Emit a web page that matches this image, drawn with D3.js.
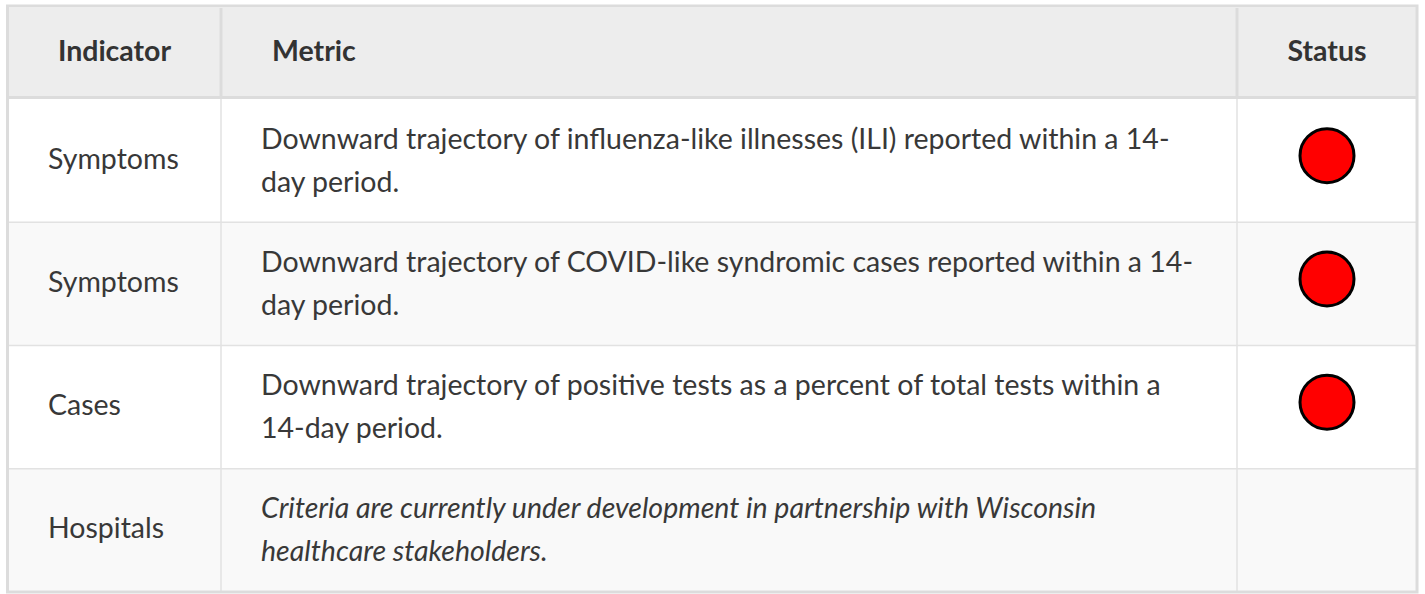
<!DOCTYPE html>
<html>
<head>
<meta charset="utf-8">
<script src="https://cdn.jsdelivr.net/npm/d3@7"></script>
<style>
  body { margin: 0; background: #fff; }
  svg text { font-family: Lato, sans-serif; fill: #383838; }
</style>
</head>
<body>
<div id="tableChart"></div>
<script>
'use strict';

// table content
const columns = ["Indicator", "Metric", "Status"]
const indicators = ["Symptoms", "Symptoms", "Cases", "Hospitals"]
const metrics = [
    ["Downward trajectory of influenza-like illnesses (ILI) reported within a 14-", "day period."],
    ["Downward trajectory of COVID-like syndromic cases reported within a 14-", "day period."],
    ["Downward trajectory of positive tests as a percent of total tests within a", "14-day period."],
    ["Criteria are currently under development in partnership with Wisconsin", "healthcare stakeholders."]
]
const italicRows = [false, false, false, true]
const statuses = ["red", "red", "red", null]

let width = 1425
let height = 594
let fontSize = "28.5px"

let svg = d3.select("#tableChart")
    .append("svg")
    .attr("width", width)
    .attr("height", height)

// column edges
let colEdges = [8, 221, 1237, 1416]
let headTop = 8, headBottom = 97

let y = d3.scaleBand()
    .domain(d3.range(indicators.length))
    .range([99, 592])

// header background
svg.append("rect")
    .attr("x", colEdges[0]).attr("y", headTop)
    .attr("width", colEdges[3] - colEdges[0]).attr("height", headBottom - headTop)
    .attr("fill", "#ededed")

// row backgrounds
svg.selectAll(".rowBg")
    .data(indicators)
    .enter().append("rect")
    .attr("class", "rowBg")
    .attr("x", colEdges[0])
    .attr("y", (d, i) => y(i))
    .attr("width", colEdges[3] - colEdges[0])
    .attr("height", y.bandwidth())
    .attr("fill", (d, i) => i % 2 ? "#f9f9f9" : "#ffffff")

// row separators
svg.selectAll(".rowLine")
    .data(d3.range(1, indicators.length))
    .enter().append("line")
    .attr("x1", colEdges[0]).attr("x2", colEdges[3])
    .attr("y1", d => y(d)).attr("y2", d => y(d))
    .attr("stroke", "#e2e2e2")
    .attr("stroke-width", 1.5)

// body column separators
svg.selectAll(".colLine")
    .data([colEdges[1], colEdges[2]])
    .enter().append("line")
    .attr("x1", d => d).attr("x2", d => d)
    .attr("y1", headBottom).attr("y2", 592)
    .attr("stroke", "#e2e2e2")
    .attr("stroke-width", 1.5)

// header column separators
svg.selectAll(".headColLine")
    .data([colEdges[1], colEdges[2]])
    .enter().append("line")
    .attr("x1", d => d).attr("x2", d => d)
    .attr("y1", headTop).attr("y2", headBottom)
    .attr("stroke", "#dcdcdc")
    .attr("stroke-width", 3)

// header bottom border
svg.append("line")
    .attr("x1", colEdges[0]).attr("x2", colEdges[3])
    .attr("y1", 97.5).attr("y2", 97.5)
    .attr("stroke", "#dcdcdc")
    .attr("stroke-width", 3)

// outer border
svg.append("rect")
    .attr("x", 7.5).attr("y", 6)
    .attr("width", 1409.5).attr("height", 586)
    .attr("fill", "none")
    .attr("stroke", "#dcdcdc")
    .attr("stroke-width", 3)

// header text
let headX = [114.5, 272, 1327]
let headAnchor = ["middle", "start", "middle"]
svg.selectAll(".headText")
    .data(columns)
    .enter().append("text")
    .attr("x", (d, i) => headX[i])
    .attr("y", 51)
    .attr("dy", "0.35em")
    .attr("text-anchor", (d, i) => headAnchor[i])
    .attr("font-size", fontSize)
    .attr("font-weight", "bold")
    .style("fill", "#333")
    .text(d => d)

// indicator column
svg.selectAll(".indText")
    .data(indicators)
    .enter().append("text")
    .attr("x", 48)
    .attr("y", (d, i) => y(i) + y.bandwidth() / 2 - 2)
    .attr("dy", "0.35em")
    .attr("font-size", fontSize)
    .text(d => d)

// metric column
let metricG = svg.selectAll(".metric")
    .data(metrics)
    .enter().append("text")
    .attr("font-size", fontSize)
    .attr("font-style", (d, i) => italicRows[i] ? "italic" : "normal")

metricG.selectAll("tspan")
    .data((d, i) => d.map((line, j) => ({ line: line, row: i, j: j })))
    .enter().append("tspan")
    .attr("x", 261)
    .attr("y", d => y(d.row) + y.bandwidth() / 2 - 22 + d.j * 43)
    .attr("dy", "0.35em")
    .text(d => d.line)

// status dots
svg.selectAll(".statusDot")
    .data(statuses.map((s, i) => ({ s: s, i: i })).filter(d => d.s))
    .enter().append("circle")
    .attr("cx", 1327)
    .attr("cy", d => y(d.i) + y.bandwidth() / 2 - 5)
    .attr("r", 27)
    .attr("fill", d => d.s === "red" ? "#ff0000" : d.s)
    .attr("stroke", "#000")
    .attr("stroke-width", 3)
</script>
</body>
</html>
